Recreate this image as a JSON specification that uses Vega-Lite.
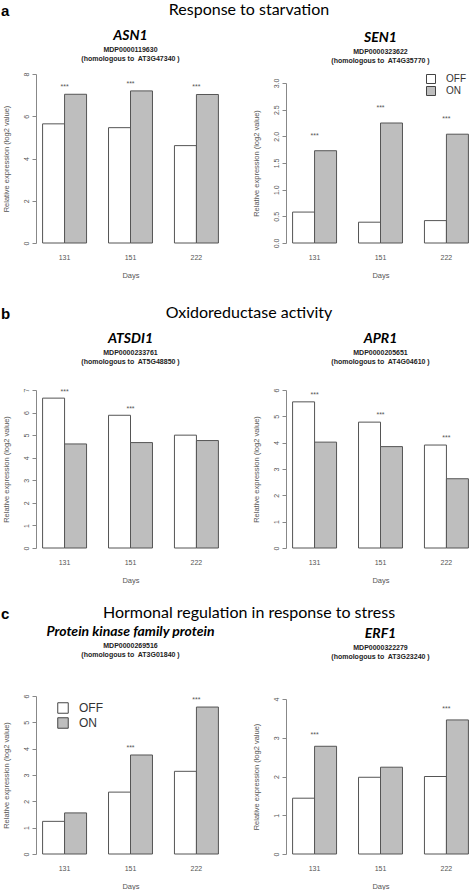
{
  "$schema": "https://vega.github.io/schema/vega-lite/v6.json",
  "padding": {"left": 1, "top": 2, "right": 0, "bottom": 0},
  "background": "white",
  "config": {
    "view": {"stroke": null},
    "font": "Liberation Sans",
    "concat": {"spacing": 27},
    "axis": {"grid": false, "labelFont": "Liberation Sans", "labelFontSize": 7, "labelColor": "#555", "titleFont": "Liberation Sans", "titleFontSize": 7.5, "titleFontWeight": "normal", "titleColor": "#555", "domainColor": "#888", "tickColor": "#888", "labelOverlap": false, "labelFlush": false, "labelBound": false},
    "axisX": {"domain": false, "ticks": false, "tickSize": 0, "labelAngle": 0, "labelAlign": "center", "bandPosition": 0.5, "labelPadding": 10, "titlePadding": 11},
    "axisY": {"tickSize": 4, "labelAngle": -90, "labelAlign": "center", "labelBaseline": "alphabetic", "labelPadding": 4, "titlePadding": 12, "labelOverlap": false},
    "title": {"font": "Lato", "fontStyle": "italic", "fontWeight": "bold", "fontSize": 14, "color": "#000", "frame": "group", "subtitleFont": "Liberation Sans", "subtitleFontWeight": "bold", "subtitleFontSize": 7, "subtitleColor": "#222", "subtitlePadding": 3, "subtitleLineHeight": 9},
    "legend": {"labelFont": "Liberation Sans", "labelColor": "#333", "symbolType": "square", "symbolStrokeColor": "#444", "symbolStrokeWidth": 1}
  },
  "datasets": {
    "bars": [
      {"gene": "ASN1", "day": "131", "cond": "OFF", "value": 5.64, "sig": "***"},
      {"gene": "ASN1", "day": "131", "cond": "ON", "value": 7.04, "sig": "***"},
      {"gene": "ASN1", "day": "151", "cond": "OFF", "value": 5.46, "sig": "***"},
      {"gene": "ASN1", "day": "151", "cond": "ON", "value": 7.2, "sig": "***"},
      {"gene": "ASN1", "day": "222", "cond": "OFF", "value": 4.61, "sig": "***"},
      {"gene": "ASN1", "day": "222", "cond": "ON", "value": 7.03, "sig": "***"},
      {"gene": "SEN1", "day": "131", "cond": "OFF", "value": 0.58, "sig": "***"},
      {"gene": "SEN1", "day": "131", "cond": "ON", "value": 1.73, "sig": "***"},
      {"gene": "SEN1", "day": "151", "cond": "OFF", "value": 0.39, "sig": "***"},
      {"gene": "SEN1", "day": "151", "cond": "ON", "value": 2.25, "sig": "***"},
      {"gene": "SEN1", "day": "222", "cond": "OFF", "value": 0.42, "sig": "***"},
      {"gene": "SEN1", "day": "222", "cond": "ON", "value": 2.04, "sig": "***"},
      {"gene": "ATSDI1", "day": "131", "cond": "OFF", "value": 6.64, "sig": "***"},
      {"gene": "ATSDI1", "day": "131", "cond": "ON", "value": 4.61, "sig": "***"},
      {"gene": "ATSDI1", "day": "151", "cond": "OFF", "value": 5.88, "sig": "***"},
      {"gene": "ATSDI1", "day": "151", "cond": "ON", "value": 4.67, "sig": "***"},
      {"gene": "ATSDI1", "day": "222", "cond": "OFF", "value": 5.0, "sig": ""},
      {"gene": "ATSDI1", "day": "222", "cond": "ON", "value": 4.76, "sig": ""},
      {"gene": "APR1", "day": "131", "cond": "OFF", "value": 5.55, "sig": "***"},
      {"gene": "APR1", "day": "131", "cond": "ON", "value": 4.02, "sig": "***"},
      {"gene": "APR1", "day": "151", "cond": "OFF", "value": 4.78, "sig": "***"},
      {"gene": "APR1", "day": "151", "cond": "ON", "value": 3.85, "sig": "***"},
      {"gene": "APR1", "day": "222", "cond": "OFF", "value": 3.91, "sig": "***"},
      {"gene": "APR1", "day": "222", "cond": "ON", "value": 2.63, "sig": "***"},
      {"gene": "PK", "day": "131", "cond": "OFF", "value": 1.24, "sig": ""},
      {"gene": "PK", "day": "131", "cond": "ON", "value": 1.56, "sig": ""},
      {"gene": "PK", "day": "151", "cond": "OFF", "value": 2.35, "sig": "***"},
      {"gene": "PK", "day": "151", "cond": "ON", "value": 3.76, "sig": "***"},
      {"gene": "PK", "day": "222", "cond": "OFF", "value": 3.14, "sig": "***"},
      {"gene": "PK", "day": "222", "cond": "ON", "value": 5.58, "sig": "***"},
      {"gene": "ERF1", "day": "131", "cond": "OFF", "value": 1.44, "sig": "***"},
      {"gene": "ERF1", "day": "131", "cond": "ON", "value": 2.78, "sig": "***"},
      {"gene": "ERF1", "day": "151", "cond": "OFF", "value": 1.98, "sig": ""},
      {"gene": "ERF1", "day": "151", "cond": "ON", "value": 2.24, "sig": ""},
      {"gene": "ERF1", "day": "222", "cond": "OFF", "value": 2.0, "sig": "***"},
      {"gene": "ERF1", "day": "222", "cond": "ON", "value": 3.46, "sig": "***"}
    ]
  },
  "spacing": 21,
  "vconcat": [
    {
      "spacing": 26,
      "vconcat": [
        {
          "spacing": -3,
          "vconcat": [
            {
              "spacing": 0,
              "hconcat": [
                {"width": 10, "height": 1, "data": {"values": []}, "mark": "text", "encoding": {},
                 "title": {"text": "a", "anchor": "start", "frame": "group", "font": "Liberation Sans", "fontStyle": "normal", "fontWeight": "bold", "fontSize": 15, "baseline": "alphabetic", "offset": 0, "dx": -35}},
                {"width": 406, "height": 1, "data": {"values": []}, "mark": "text", "encoding": {},
                 "title": {"text": "Response to starvation", "anchor": "middle", "frame": "group", "font": "Lato", "fontStyle": "normal", "fontWeight": "normal", "fontSize": 16, "baseline": "alphabetic", "offset": 0}}
              ]
            },
            {
              "spacing": 27,
              "resolve": {"scale": {"y": "independent", "fill": "independent"}, "legend": {"fill": "independent"}},
              "hconcat": [
                {
                  "width": 189, "height": 169,
                  "title": {"text": "ASN1", "subtitle": ["MDP0000119630", "(homologous to\u00a0 AT3G47340 )"], "offset": 10},
                  "data": {"name": "bars"},
                  "transform": [{"filter": "datum.gene === 'ASN1'"}],
                  "encoding": {
                    "x": {"field": "day", "type": "nominal", "title": "Days", "scale": {"paddingInner": 0.3333, "paddingOuter": 0.1}},
                    "y": {"field": "value", "type": "quantitative", "title": "Relative expression (log2 value)", "scale": {"domain": [0, 8], "range": [169, 0], "nice": false}, "axis": {"values": [0, 2, 4, 6, 8], "labelOverlap": false}}
                  },
                  "layer": [
                    {"mark": {"type": "bar", "stroke": "#555", "strokeWidth": 1},
                     "encoding": {
                       "xOffset": {"field": "cond", "type": "nominal", "scale": {"paddingInner": 0, "paddingOuter": 0}},
                       "fill": {"field": "cond", "type": "nominal", "scale": {"domain": ["OFF", "ON"], "range": ["#ffffff", "#bebebe"]}, "legend": null}
                     }},
                    {"transform": [{"filter": "datum.sig !== ''"}, {"aggregate": [{"op": "max", "field": "value", "as": "value"}], "groupby": ["day", "sig"]}],
                     "mark": {"type": "text", "fontSize": 7, "dy": -7, "color": "#555", "baseline": "middle"},
                     "encoding": {"text": {"field": "sig"}}}
                  ]
                },
                {
                  "width": 189, "height": 169,
                  "title": {"text": "SEN1", "subtitle": ["MDP0000323622", "(homologous to\u00a0 AT4G35770 )"], "offset": 10},
                  "data": {"name": "bars"},
                  "transform": [{"filter": "datum.gene === 'SEN1'"}],
                  "encoding": {
                    "x": {"field": "day", "type": "nominal", "title": "Days", "scale": {"paddingInner": 0.3333, "paddingOuter": 0.1}},
                    "y": {"field": "value", "type": "quantitative", "title": "Relative expression (log2 value)", "scale": {"domain": [0, 3], "range": [169, 9], "nice": false}, "axis": {"values": [0, 0.5, 1, 1.5, 2, 2.5, 3], "format": ".1f", "labelOverlap": false}}
                  },
                  "layer": [
                    {"mark": {"type": "bar", "stroke": "#555", "strokeWidth": 1},
                     "encoding": {
                       "xOffset": {"field": "cond", "type": "nominal", "scale": {"paddingInner": 0, "paddingOuter": 0}},
                       "fill": {"field": "cond", "type": "nominal", "scale": {"domain": ["OFF", "ON"], "range": ["#ffffff", "#bebebe"]}, "legend": {"title": null, "orient": "none", "legendX": 140, "legendY": 0, "symbolSize": 81, "labelFontSize": 10, "rowPadding": -2, "labelOffset": 10}}
                     }},
                    {"transform": [{"filter": "datum.sig !== ''"}, {"aggregate": [{"op": "max", "field": "value", "as": "value"}], "groupby": ["day", "sig"]}],
                     "mark": {"type": "text", "fontSize": 7, "dy": -15, "color": "#555", "baseline": "middle"},
                     "encoding": {"text": {"field": "sig"}}}
                  ]
                }
              ]
            }
          ]
        },
        {
          "spacing": -3,
          "vconcat": [
            {
              "spacing": 0,
              "hconcat": [
                {"width": 10, "height": 1, "data": {"values": []}, "mark": "text", "encoding": {},
                 "title": {"text": "b", "anchor": "start", "frame": "group", "font": "Liberation Sans", "fontStyle": "normal", "fontWeight": "bold", "fontSize": 15, "baseline": "alphabetic", "offset": 0, "dx": -35}},
                {"width": 406, "height": 1, "data": {"values": []}, "mark": "text", "encoding": {},
                 "title": {"text": "Oxidoreductase activity", "anchor": "middle", "frame": "group", "font": "Lato", "fontStyle": "normal", "fontWeight": "normal", "fontSize": 16, "baseline": "alphabetic", "offset": 0}}
              ]
            },
            {
              "spacing": 27,
              "resolve": {"scale": {"y": "independent", "fill": "independent"}, "legend": {"fill": "independent"}},
              "hconcat": [
                {
                  "width": 189, "height": 158,
                  "title": {"text": "ATSDI1", "subtitle": ["MDP0000233761", "(homologous to\u00a0 AT5G48850 )"], "offset": 23},
                  "data": {"name": "bars"},
                  "transform": [{"filter": "datum.gene === 'ATSDI1'"}],
                  "encoding": {
                    "x": {"field": "day", "type": "nominal", "title": "Days", "scale": {"paddingInner": 0.3333, "paddingOuter": 0.1}},
                    "y": {"field": "value", "type": "quantitative", "title": "Relative expression (log2 value)", "scale": {"domain": [0, 7], "range": [158, 0], "nice": false}, "axis": {"values": [0, 1, 2, 3, 4, 5, 6, 7], "labelOverlap": false}}
                  },
                  "layer": [
                    {"mark": {"type": "bar", "stroke": "#555", "strokeWidth": 1},
                     "encoding": {
                       "xOffset": {"field": "cond", "type": "nominal", "scale": {"paddingInner": 0, "paddingOuter": 0}},
                       "fill": {"field": "cond", "type": "nominal", "scale": {"domain": ["OFF", "ON"], "range": ["#ffffff", "#bebebe"]}, "legend": null}
                     }},
                    {"transform": [{"filter": "datum.sig !== ''"}, {"aggregate": [{"op": "max", "field": "value", "as": "value"}], "groupby": ["day", "sig"]}],
                     "mark": {"type": "text", "fontSize": 7, "dy": -6, "color": "#555", "baseline": "middle"},
                     "encoding": {"text": {"field": "sig"}}}
                  ]
                },
                {
                  "width": 189, "height": 158,
                  "title": {"text": "APR1", "subtitle": ["MDP0000205651", "(homologous to\u00a0 AT4G04610 )"], "offset": 23},
                  "data": {"name": "bars"},
                  "transform": [{"filter": "datum.gene === 'APR1'"}],
                  "encoding": {
                    "x": {"field": "day", "type": "nominal", "title": "Days", "scale": {"paddingInner": 0.3333, "paddingOuter": 0.1}},
                    "y": {"field": "value", "type": "quantitative", "title": "Relative expression (log2 value)", "scale": {"domain": [0, 6], "range": [158, 0], "nice": false}, "axis": {"values": [0, 1, 2, 3, 4, 5, 6], "labelOverlap": false}}
                  },
                  "layer": [
                    {"mark": {"type": "bar", "stroke": "#555", "strokeWidth": 1},
                     "encoding": {
                       "xOffset": {"field": "cond", "type": "nominal", "scale": {"paddingInner": 0, "paddingOuter": 0}},
                       "fill": {"field": "cond", "type": "nominal", "scale": {"domain": ["OFF", "ON"], "range": ["#ffffff", "#bebebe"]}, "legend": null}
                     }},
                    {"transform": [{"filter": "datum.sig !== ''"}, {"aggregate": [{"op": "max", "field": "value", "as": "value"}], "groupby": ["day", "sig"]}],
                     "mark": {"type": "text", "fontSize": 7, "dy": -7, "color": "#555", "baseline": "middle"},
                     "encoding": {"text": {"field": "sig"}}}
                  ]
                }
              ]
            }
          ]
        }
      ]
    },
    {
      "spacing": -10,
      "vconcat": [
        {
          "spacing": 0,
          "hconcat": [
            {"width": 10, "height": 1, "data": {"values": []}, "mark": "text", "encoding": {},
             "title": {"text": "c", "anchor": "start", "frame": "group", "font": "Liberation Sans", "fontStyle": "normal", "fontWeight": "bold", "fontSize": 15, "baseline": "alphabetic", "offset": 0, "dx": -35}},
            {"width": 406, "height": 1, "data": {"values": []}, "mark": "text", "encoding": {},
             "title": {"text": "Hormonal regulation in response to stress", "anchor": "middle", "frame": "group", "font": "Lato", "fontStyle": "normal", "fontWeight": "normal", "fontSize": 16, "baseline": "alphabetic", "offset": 0}}
          ]
        },
        {
          "spacing": 27,
          "resolve": {"scale": {"y": "independent", "fill": "independent"}, "legend": {"fill": "independent"}},
          "hconcat": [
            {
              "width": 189, "height": 158,
              "title": {"text": "Protein kinase family protein", "subtitle": ["MDP0000269516", "(homologous to\u00a0 AT3G01840 )"], "offset": 36},
              "data": {"name": "bars"},
              "transform": [{"filter": "datum.gene === 'PK'"}],
              "encoding": {
                "x": {"field": "day", "type": "nominal", "title": "Days", "scale": {"paddingInner": 0.3333, "paddingOuter": 0.1}},
                "y": {"field": "value", "type": "quantitative", "title": "Relative expression (log2 value)", "scale": {"domain": [0, 6], "range": [158, 0], "nice": false}, "axis": {"values": [0, 1, 2, 3, 4, 5, 6], "labelOverlap": false}}
              },
              "layer": [
                {"mark": {"type": "bar", "stroke": "#555", "strokeWidth": 1},
                 "encoding": {
                   "xOffset": {"field": "cond", "type": "nominal", "scale": {"paddingInner": 0, "paddingOuter": 0}},
                   "fill": {"field": "cond", "type": "nominal", "scale": {"domain": ["OFF", "ON"], "range": ["#ffffff", "#bebebe"]}, "legend": {"title": null, "orient": "none", "legendX": 21, "legendY": 6, "symbolSize": 110, "labelFontSize": 12, "rowPadding": -1, "labelOffset": 10}}
                 }},
                {"transform": [{"filter": "datum.sig !== ''"}, {"aggregate": [{"op": "max", "field": "value", "as": "value"}], "groupby": ["day", "sig"]}],
                 "mark": {"type": "text", "fontSize": 7, "dy": -7, "color": "#555", "baseline": "middle"},
                 "encoding": {"text": {"field": "sig"}}}
              ]
            },
            {
              "width": 189, "height": 158,
              "title": {"text": "ERF1", "subtitle": ["MDP0000322279", "(homologous to\u00a0 AT3G23240 )"], "offset": 36},
              "data": {"name": "bars"},
              "transform": [{"filter": "datum.gene === 'ERF1'"}],
              "encoding": {
                "x": {"field": "day", "type": "nominal", "title": "Days", "scale": {"paddingInner": 0.3333, "paddingOuter": 0.1}},
                "y": {"field": "value", "type": "quantitative", "title": "Relative expression (log2 value)", "scale": {"domain": [0, 4], "range": [158, 3], "nice": false}, "axis": {"values": [0, 1, 2, 3, 4], "labelOverlap": false}}
              },
              "layer": [
                {"mark": {"type": "bar", "stroke": "#555", "strokeWidth": 1},
                 "encoding": {
                   "xOffset": {"field": "cond", "type": "nominal", "scale": {"paddingInner": 0, "paddingOuter": 0}},
                   "fill": {"field": "cond", "type": "nominal", "scale": {"domain": ["OFF", "ON"], "range": ["#ffffff", "#bebebe"]}, "legend": null}
                 }},
                {"transform": [{"filter": "datum.sig !== ''"}, {"aggregate": [{"op": "max", "field": "value", "as": "value"}], "groupby": ["day", "sig"]}],
                 "mark": {"type": "text", "fontSize": 7, "dy": -11, "color": "#555", "baseline": "middle"},
                 "encoding": {"text": {"field": "sig"}}}
              ]
            }
          ]
        }
      ]
    }
  ]
}
